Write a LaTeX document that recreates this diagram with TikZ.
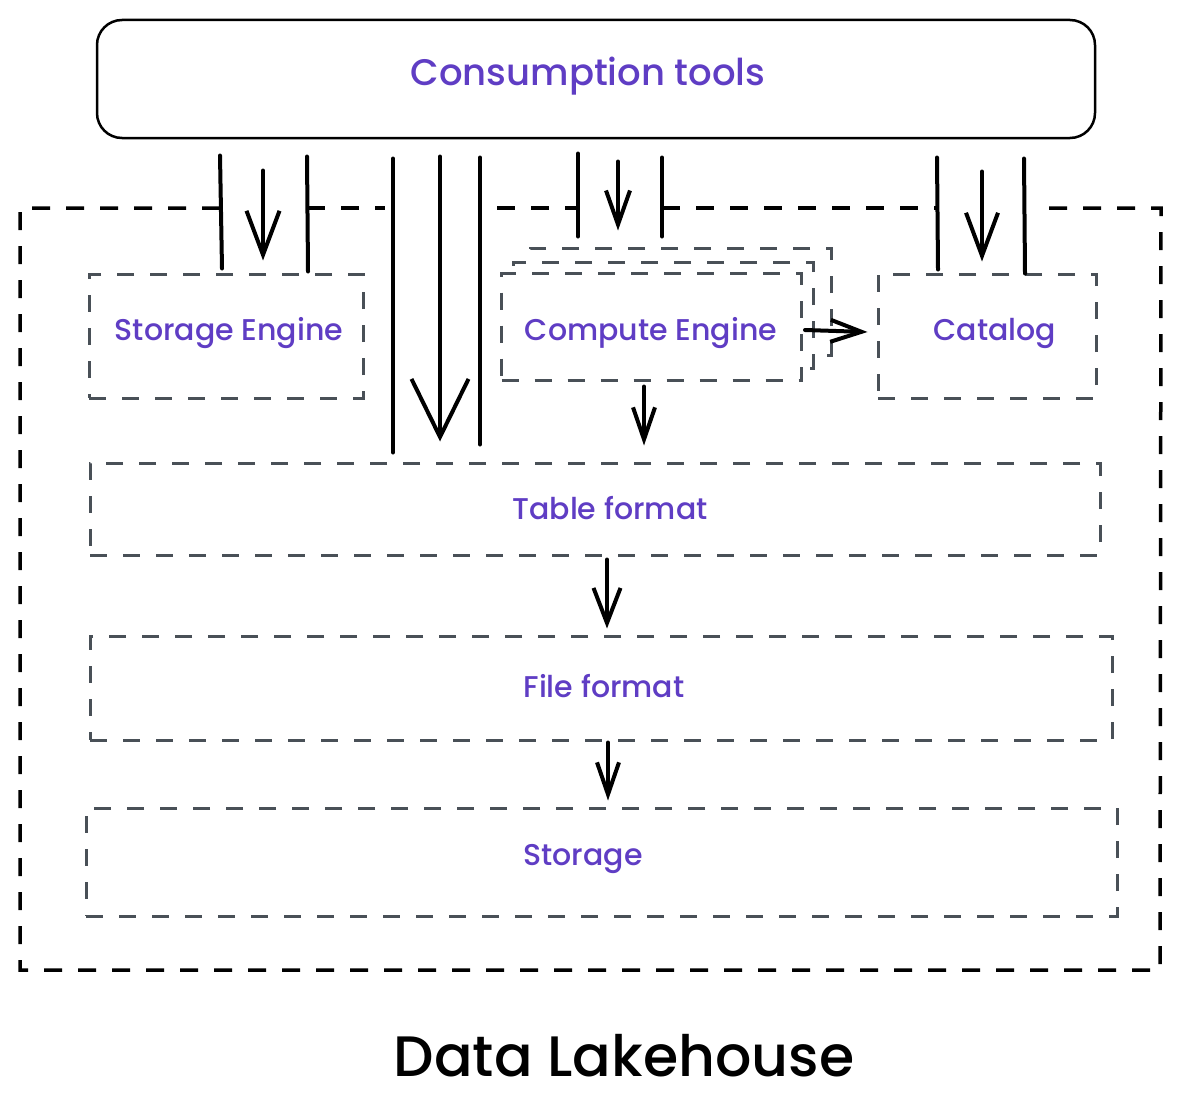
\documentclass[tikz,border=0pt]{standalone}
\usepackage{fontspec}
\setmainfont{Poppins}[UprightFont=*-Medium]
\usetikzlibrary{arrows.meta,calc}
\definecolor{lblc}{HTML}{5F3DC4}
\definecolor{dgray}{HTML}{495057}
\begin{document}
\begin{tikzpicture}[x=1pt,y=-1pt,
  box/.style={draw=dgray, line width=3pt, dash pattern=on 17pt off 16pt, fill=white, inner sep=0pt},
  frame/.style={draw=black, line width=3.5pt, dash pattern=on 18pt off 16pt},
  lbl/.style={text=lblc, inner sep=0pt, font=\fontsize{30}{36}\selectfont},
  solidl/.style={line width=4pt, line cap=round},
  arr/.style 2 args={solidl, -{Straight Barb[length=#1pt,width=#2pt]}}]
\useasboundingbox (0,0) rectangle (1177,1116);
\fill[white] (0,0) rectangle (1177,1116);

% consumption tools
\node[draw, line width=2.5pt, rounded corners=25pt, minimum width=998pt, minimum height=118pt] (ct) at (596,79) {};
\node[lbl, font=\fontsize{37}{44}\selectfont] (ctl) at (588,76) {Consumption tools};

% outer frame
\draw[frame] (220,208) -- (20,208) -- (20,970) -- (1160,970) -- (1161,208) -- (1040,208);
\draw[frame] (307,208) -- (385,208);
\draw[frame] (497,208) -- (578,208);
\draw[frame] (662,208) -- (937,208);

% boxes
\node[box, minimum width=274pt, minimum height=124pt] (se) at (226,336) {};
\node[lbl] (sel) at (229,333) {Storage Engine};

\node[box, minimum width=301pt, minimum height=107pt] (c3) at (680.5,301.5) {};
\node[box, minimum width=300pt, minimum height=106pt] (c2) at (663,315) {};
\node[box, minimum width=300pt, minimum height=107pt] (ce) at (651.5,327) {};
\node[lbl] (cel) at (651,333) {Compute Engine};

\node[box, minimum width=218pt, minimum height=124pt] (cat) at (987,336) {};
\node[lbl] (catl) at (995,333) {Catalog};

\node[box, minimum width=1010pt, minimum height=92pt] (tf) at (595,509) {};
\node[lbl] (tfl) at (610,508) {Table format};

\node[box, minimum width=1022pt, minimum height=104pt] (ff) at (601,688) {};
\node[lbl] (ffl) at (604,686) {File format};

\node[box, minimum width=1031pt, minimum height=108pt] (st) at (601.5,862) {};
\node[lbl] (stl) at (583,859) {Storage};

\node[font=\fontsize{57}{66}\selectfont, inner sep=0pt] (dl) at (624,1056) {Data Lakehouse};

% storage engine group
\draw[solidl] ($(se.north)+(-6,-117)$) -- ($(se.north)+(-4,-4)$);
\draw[arr={44}{33}] ($(se.north)+(37,-102)$) -- ($(se.north)+(37,-12)$);
\draw[solidl] ($(se.north)+(81,-116)$) -- ($(se.north)+(82,-1)$);

% middle group to table format
\draw[solidl] ($(tf.north)+(-202,-303)$) -- ($(tf.north)+(-202,-9)$);
\draw[arr={58}{57}] ($(tf.north)+(-155,-305)$) -- ($(tf.north)+(-155,-20)$);
\draw[solidl] ($(tf.north)+(-115,-304)$) -- ($(tf.north)+(-115,-17)$);

% compute group
\draw[solidl] ($(c3.north)+(-102.5,-93)$) -- ($(c3.north)+(-102.5,-10)$);
\draw[arr={34}{24}] ($(c3.north)+(-62.5,-85)$) -- ($(c3.north)+(-62.5,-16)$);
\draw[solidl] ($(c3.north)+(-18.5,-89)$) -- ($(c3.north)+(-18.5,-10)$);

% catalog group
\draw[solidl] ($(cat.north)+(-50,-115)$) -- ($(cat.north)+(-49,-3)$);
\draw[arr={43}{32}] ($(cat.north)+(-5,-101)$) -- ($(cat.north)+(-5,-11)$);
\draw[solidl] ($(cat.north)+(37,-114)$) -- ($(cat.north)+(38,1)$);

% inner arrows
\draw[arr={31}{22}] ($(ce.east)+(2,3)$) -- ($(cat.west)+(-9,-4)$);
\draw[arr={32}{22}] ($(ce.south)+(-7.5,4.5)$) -- ($(tf.north)+(49,-16)$);
\draw[arr={35}{27}] ($(tf.south)+(12,3)$) -- ($(ff.north)+(6,-6)$);
\draw[arr={32}{22}] ($(ff.south)+(7,1)$) -- ($(st.north)+(6.5,-6)$);
\end{tikzpicture}
\end{document}
